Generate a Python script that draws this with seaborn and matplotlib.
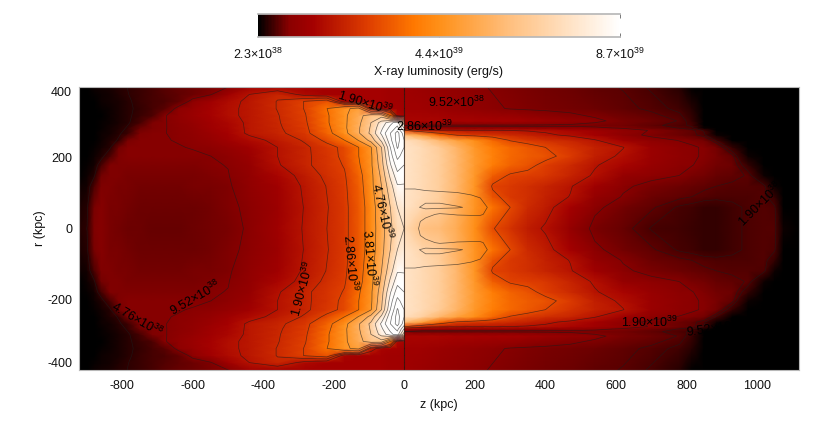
import numpy as np
import matplotlib
matplotlib.use("Agg")
import matplotlib.pyplot as plt
from matplotlib.colors import LinearSegmentedColormap
import seaborn as sns

# all luminosities in units of 1e38 erg/s
left_z = [-923, -900, -880, -860, -835, -810, -785, -750, -715, -680, -640, -600, -550, -500, -440, -360, -280, -220, -170, -130, -95, -65, -40, -20, -1]
left_r = [0, 60, 120, 150, 180, 205, 230, 250, 270, 285, 300, 320, 340, 360, 380, 402]
left_r0 = [4, 4.8, 9, 9.3, 8.8, 8.5, 8.2, 8, 7.8, 7.8, 7.8, 8, 8.4, 8.8, 9.8, 14, 19.8, 23.8, 27, 33, 43, 53, 64, 72, 76]
left_r60 = [3.8, 4.5, 8.8, 9.3, 8.8, 8.6, 8.3, 8.1, 8, 8, 8, 8.2, 8.5, 9, 10, 13.5, 19.5, 23.5, 27, 33, 43, 54, 66, 76, 80]
left_r120 = [3, 3.6, 6.5, 9.2, 9, 8.9, 8.7, 8.5, 8.4, 8.4, 8.5, 8.6, 8.9, 9.2, 11, 14.5, 20, 24, 27.5, 34, 45, 57, 72, 85, 85]
left_r150 = [2.6, 3.2, 4.5, 8.5, 9.2, 9.1, 8.9, 8.8, 8.7, 8.7, 8.8, 8.9, 9.1, 9.4, 11.5, 16, 21, 25, 28, 35, 45, 59, 78, 92, 90]
left_r180 = [2.3, 2.8, 3.6, 6, 9.2, 9.2, 9.1, 9, 9, 9, 9, 9.1, 9.3, 9.6, 12, 18.5, 23, 26, 29, 37, 46, 62, 85, 100, 95]
left_r205 = [2.3, 2.4, 3.2, 4, 6.5, 9.2, 9.3, 9.3, 9.3, 9.3, 9.3, 9.3, 9.5, 10.3, 13, 19, 23, 26, 30, 38, 46, 64, 90, 108, 100]
left_r230 = [2.3, 2.3, 2.8, 3.5, 4.5, 8.5, 9.3, 9.4, 9.4, 9.4, 9.45, 9.6, 10.5, 12, 14.5, 19, 23, 26.5, 30, 38, 47, 66, 95, 115, 105]
left_r250 = [2.3, 2.3, 2.6, 3.2, 4, 5, 8.8, 9.3, 9.4, 9.45, 9.6, 10.5, 12, 14, 17, 20.5, 24.5, 30, 38, 48, 60, 78, 102, 118, 105]
left_r270 = [2.3, 2.3, 2.5, 3, 3.6, 4.5, 5.5, 9, 9.3, 9.45, 10, 11, 13, 15.5, 20, 22.5, 27, 35, 45, 56, 68, 88, 105, 118, 100]
left_r285 = [2.3, 2.3, 2.4, 2.8, 3.4, 4, 5, 8, 9.2, 9.4, 10.2, 11.5, 14, 16, 20, 23, 27.5, 36, 46, 56, 67, 84, 98, 108, 85]
left_r300 = [2.3, 2.3, 2.4, 2.7, 3.2, 3.8, 4.5, 6, 9, 9.35, 10.5, 12, 14.5, 16.5, 20, 23.3, 28, 37, 46, 55, 66, 80, 92, 100, 70]
left_r320 = [2.3, 2.3, 2.4, 2.6, 3.1, 3.8, 4.4, 5.5, 6.5, 9.3, 11, 13, 15.5, 18, 20, 23.5, 28.5, 37, 46, 54, 62, 62, 38, 17, 16]
left_r340 = [2.3, 2.3, 2.5, 2.8, 3.2, 3.8, 4.4, 5.2, 6, 7.2, 10.5, 12.5, 15.5, 18, 20, 24, 29, 38, 46, 50, 22, 16, 15.5, 15, 14.5]
left_r360 = [2.3, 2.4, 2.6, 3, 3.4, 3.9, 4.5, 5.3, 6, 6.6, 7.5, 10.5, 14.5, 17.5, 20, 24, 29, 32, 16, 15, 15, 15, 14.5, 14.5, 14]
left_r380 = [2.3, 2.5, 2.8, 3.2, 3.6, 4.1, 4.7, 5.4, 6.1, 6.8, 7.3, 8, 9.2, 14, 19, 23, 17, 15, 15, 15, 15, 15, 14.5, 14.5, 14]
left_r402 = [2.4, 2.6, 3, 3.4, 3.8, 4.3, 4.8, 5.5, 6.2, 7, 7.6, 8.2, 8.8, 9.3, 14, 14.5, 15, 15, 15, 15, 15, 15, 14.5, 14.5, 14]

right_z = [1, 50, 100, 150, 200, 250, 300, 350, 400, 470, 540, 620, 700, 780, 815, 850, 885, 930, 975, 1020, 1050, 1075, 1119]
right_r = [0, 60, 90, 120, 150, 180, 205, 230, 250, 265, 278, 285, 292, 305, 340, 402]
right_r0 = [72, 62, 60, 54, 44, 30.5, 25.5, 21, 18.3, 12, 8.8, 7.6, 6.1, 5.8, 5.5, 5, 5.1, 5.9, 6.4, 6.8, 6.7, 3, 2.3]
right_r60 = [76, 70, 66, 56, 46, 38, 30, 24, 21, 15, 10, 8.5, 7.3, 6, 5.7, 5.2, 5.2, 5.9, 6.4, 6.8, 6.4, 2.6, 2.3]
right_r90 = [76, 72, 67, 57, 46, 32, 27, 25, 22, 18.8, 12, 9.3, 8, 7.4, 7.1, 6.8, 6.6, 6.5, 6.6, 6.7, 5, 2.3, 2.3]
right_r120 = [76, 72, 67, 58, 46, 29, 27, 25, 22.5, 19.5, 14, 10, 8.7, 8, 7.7, 7.3, 7.1, 6.9, 6.7, 6.6, 3, 2.3, 2.3]
right_r150 = [76, 72, 67, 58, 47, 34, 29, 28, 26.5, 22.5, 18.2, 12, 10.3, 9.5, 8.8, 8.3, 7.8, 7.4, 7, 3, 2.3, 2.3, 2.3]
right_r180 = [76, 72, 67, 58, 48, 40, 35, 32, 28, 24, 19.5, 16, 12.5, 10.2, 9.6, 9, 8.5, 8, 5, 2.3, 2.3, 2.3, 2.3]
right_r205 = [76, 72, 67, 58, 48, 41, 36, 33.5, 32, 27.5, 21.5, 18, 13, 10.6, 9.8, 9.3, 8.8, 7.5, 3, 2.3, 2.3, 2.3, 2.3]
right_r230 = [76, 72, 66, 57, 47, 40, 36, 33, 30, 26, 22, 19.2, 13, 10.5, 9.8, 9.3, 8.5, 5, 2.3, 2.3, 2.3, 2.3, 2.3]
right_r250 = [74, 68, 58, 50, 44, 36, 29.5, 27, 25, 23, 19.5, 14, 10.5, 9.4, 9, 8.5, 6, 2.3, 2.3, 2.3, 2.3, 2.3, 2.3]
right_r265 = [60, 50, 36, 29, 27, 26, 24, 22, 20, 18, 15, 10.5, 9, 8, 7.5, 6.5, 3, 2.3, 2.3, 2.3, 2.3, 2.3, 2.3]
right_r278 = [30, 22, 20, 19.8, 19.5, 19.5, 19, 18.5, 18, 16, 14, 11, 9.3, 8, 7.5, 6, 2.3, 2.3, 2.3, 2.3, 2.3, 2.3, 2.3]
right_r285 = [12, 10.5, 10.5, 10.5, 10.5, 10.5, 10.5, 10.5, 10.5, 10.5, 10, 9.2, 8, 7, 6.5, 3, 2.3, 2.3, 2.3, 2.3, 2.3, 2.3, 2.3]
right_r292 = [9.3, 9, 9, 9, 9, 9, 9, 9, 9, 9, 8.8, 8.5, 7.5, 6.5, 6, 2.6, 2.3, 2.3, 2.3, 2.3, 2.3, 2.3, 2.3]
right_r305 = [16, 16, 16, 15.5, 15.5, 15, 15, 14, 13, 11.5, 10, 8.8, 8, 7, 5.5, 2.5, 2.3, 2.3, 2.3, 2.3, 2.3, 2.3, 2.3]
right_r340 = [14.5, 14, 13, 12, 11, 10, 9.3, 9, 8.8, 8.5, 8.2, 7.5, 6.8, 5.8, 4.5, 2.4, 2.3, 2.3, 2.3, 2.3, 2.3, 2.3, 2.3]
right_r402 = [14, 13, 12, 11, 10, 9.3, 9, 8.7, 8.4, 8, 7.5, 7, 6, 4.5, 2.5, 2.3, 2.3, 2.3, 2.3, 2.3, 2.3, 2.3, 2.3]

# the fine contours inside the jet do not follow the colours, so they get their own table
jet_z = [1, 30, 60, 100, 150, 190, 215, 240, 270]
jet_r = [0, 20, 40, 60, 80, 100, 130]
jet_r0 = [3, 1, -2, -3, -3, -3, -3, -3, -3]
jet_r20 = [3, 1, -1, -2, -3, -3, -3, -3, -3]
jet_r40 = [3, 2, 1, -0.5, 0.3, 0.5, 0.5, -1, -3]
jet_r60 = [3, 3, 4.2, 4.2, 3.8, 3, 2, -0.5, -3]
jet_r80 = [3, 3, 3, 3, 2, 1.5, 0.5, -2, -3]
jet_r100 = [2, 2, 1, 0.6, 0.2, -0.5, -1, -3, -3]
jet_r130 = [-3, -3, -3, -3, -3, -3, -3, -3, -3]

left_levels = [4.76, 9.52, 19, 23.8, 28.6, 38.1, 47.6, 57, 66, 76, 86, 95, 105, 114]
right_levels = [6.2, 7.1, 9.52, 19, 30]
lum_min, lum_max = 2.3, 87

cmap_stops = [0, .085, .15, .3, .43, .5, .7, 1]
cmap_cols = ["#000000", "#8a0000", "#a40000", "#dd3c00", "#ff7800", "#ff9018", "#ffc080", "#ffffff"]

cbar_labels = [r"2.3$\times$10$^{38}$", r"4.4$\times$10$^{39}$", r"8.7$\times$10$^{39}$"]
x_ticks = [-800, -600, -400, -200, 0, 200, 400, 600, 800, 1000]
y_ticks = [-400, -200, 0, 200, 400]

sns.set_theme(style="ticks")
plt.rcParams["font.family"] = ["Liberation Sans", "DejaVu Sans"]
plt.rcParams["mathtext.default"] = "regular"
plt.rcParams["axes.unicode_minus"] = False

cmap = LinearSegmentedColormap.from_list("xray", list(zip(cmap_stops, cmap_cols)), N=256)


def mirror(r, rows):
    rows = np.array(rows, dtype=float)
    r = np.array(r, dtype=float)
    return np.concatenate([-r[:0:-1], r]), np.vstack([rows[:0:-1], rows])


fig = plt.figure(figsize=(8.30, 4.28), dpi=100)
ax = fig.add_axes([79 / 830, 58 / 428, 720 / 830, 283 / 428])
cax = fig.add_axes([258 / 830, 391 / 428, 362 / 830, 23 / 428])

left_rr, left_lum = mirror(left_r, [left_r0, left_r60, left_r120, left_r150, left_r180, left_r205, left_r230, left_r250,
                                    left_r270, left_r285, left_r300, left_r320, left_r340, left_r360, left_r380, left_r402])
right_rr, right_lum = mirror(right_r, [right_r0, right_r60, right_r90, right_r120, right_r150, right_r180, right_r205, right_r230,
                                       right_r250, right_r265, right_r278, right_r285, right_r292, right_r305, right_r340, right_r402])
jet_rr, jet_val = mirror(jet_r, [jet_r0, jet_r20, jet_r40, jet_r60, jet_r80, jet_r100, jet_r130])

ax.pcolormesh(left_z, left_rr, left_lum, shading="gouraud", cmap=cmap, vmin=lum_min, vmax=lum_max)
ax.pcolormesh(right_z, right_rr, right_lum, shading="gouraud", cmap=cmap, vmin=lum_min, vmax=lum_max)
line_kw = dict(colors="#1c1c1c", linewidths=0.5, alpha=0.65)
ax.contour(left_z, left_rr, left_lum, levels=left_levels, **line_kw)
ax.contour(right_z, right_rr, right_lum, levels=right_levels, **line_kw)
ax.contour(jet_z, jet_rr, jet_val, levels=[0, 3.5], **line_kw)
ax.axvline(0, color="#201008", lw=0.8, alpha=0.75)

ax.set_xlim(-923, 1119)
ax.set_ylim(-401, 401)
ax.set_xticks(x_ticks)
ax.set_yticks(y_ticks)
ax.tick_params(direction="in", top=True, right=True, length=3, width=0.5, color="#444444",
               labelsize=9, labelcolor="#111111")
ax.tick_params(axis="x", pad=7)
ax.tick_params(axis="y", pad=5)
for lab, val in zip(ax.get_yticklabels(), y_ticks):
    if val == 400:
        lab.set_verticalalignment("top")
    elif val == -400:
        lab.set_verticalalignment("bottom")
for side in ax.spines.values():
    side.set_color("#b8b8b8")
    side.set_linewidth(0.8)
ax.set_xlabel("z (kpc)", fontsize=9, color="#111111", labelpad=5)
ax.set_ylabel("r (kpc)", fontsize=9, color="#111111", labelpad=1)

# contour labels: text, z, r, rotation
sup38 = r"$\times$10$^{38}$"
sup39 = r"$\times$10$^{39}$"
contour_text = [
    ("1.90" + sup39, -112, 355, -17),
    ("2.86" + sup39, 58, 289, 0),
    ("9.52" + sup38, 149, 357, 0),
    ("4.76" + sup39, -64, 48, -77),
    ("3.81" + sup39, -100, -82, -85),
    ("2.86" + sup39, -155, -96, -85),
    ("1.90" + sup39, -287, -171, 75),
    ("9.52" + sup38, -594, -196, 30),
    ("4.76" + sup38, -759, -258, -30),
    ("1.90" + sup39, 696, -267, 0),
    ("9.52" + sup38, 880, -283, 8),
    ("1.90" + sup38, 1010, 70, 45),
]
for txt, z, r, rot in contour_text:
    ax.text(z, r, txt, rotation=rot, ha="center", va="center", fontsize=9, color="black",
            rotation_mode="anchor", clip_on=True)

gradient = np.linspace(lum_min, lum_max, 256).reshape(1, -1)
sns.heatmap(gradient, ax=cax, cmap=cmap, vmin=lum_min, vmax=lum_max, cbar=False, xticklabels=False, yticklabels=False)
cax.set_xticks([0, 128, 256])
cax.set_xticklabels(cbar_labels, fontsize=9, color="#111111")
cax.tick_params(axis="x", direction="in", length=3, width=0.5, color="#444444", top=True, pad=7)
cax.tick_params(axis="y", left=False)
cax.set_xlabel("X-ray luminosity (erg/s)", fontsize=9, color="#111111", labelpad=3)
cax.spines["top"].set_visible(True)
cax.spines["bottom"].set_visible(True)
cax.spines["top"].set_color("#b8b8b8")
cax.spines["bottom"].set_color("#b8b8b8")
cax.spines["left"].set_visible(False)
cax.spines["right"].set_visible(False)

fig.savefig("out.png", dpi=100)
